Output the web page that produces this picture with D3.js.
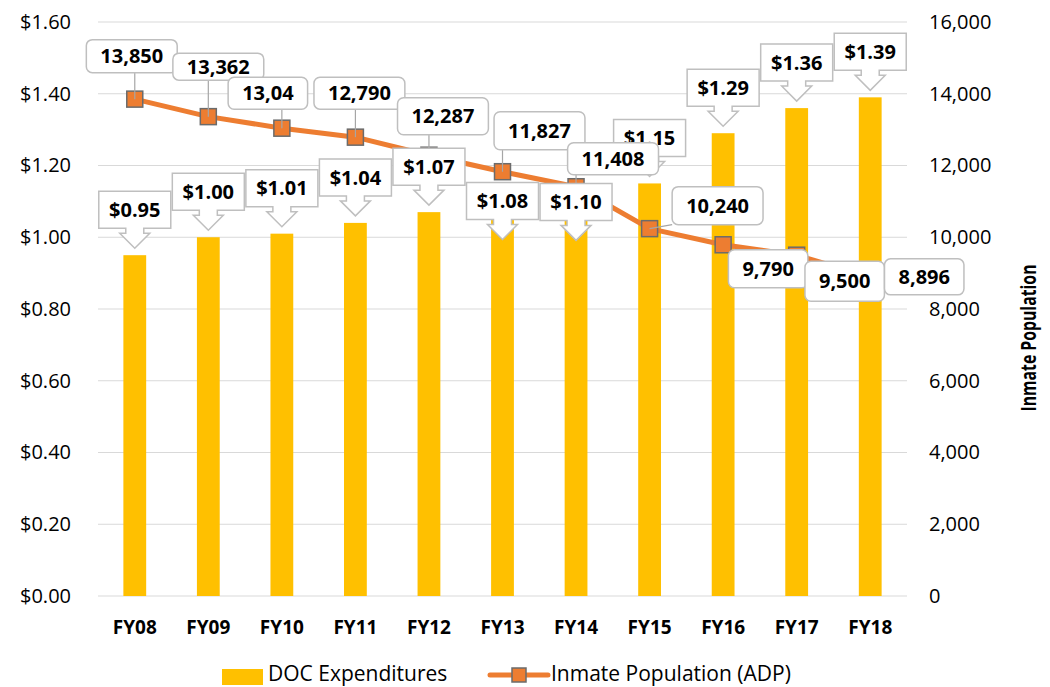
<!DOCTYPE html>
<html>
<head>
<meta charset="utf-8">
<script src="https://cdn.jsdelivr.net/npm/d3@7"></script>
<style>
  body { margin: 0; background: #fff; }
  svg { display: block; font-family: 'Open Sans', sans-serif; }
</style>
</head>
<body>
<script>
const years = ['FY08', 'FY09', 'FY10', 'FY11', 'FY12', 'FY13', 'FY14', 'FY15', 'FY16', 'FY17', 'FY18']
const expenditures = [0.95, 1.00, 1.01, 1.04, 1.07, 1.08, 1.10, 1.15, 1.29, 1.36, 1.39]
const population = [13850, 13362, 13040, 12790, 12287, 11827, 11408, 10240, 9790, 9500, 8896]
const popLabels = ['13,850', '13,362', '13,04', '12,790', '12,287', '11,827', '11,408', '10,240', '9,790', '9,500', '8,896']
const expTicks = [0, 0.2, 0.4, 0.6, 0.8, 1.0, 1.2, 1.4, 1.6]
const popTicks = [0, 2000, 4000, 6000, 8000, 10000, 12000, 14000, 16000]

// where the labels sit, relative to their points (px)
const expTip = [-7, -7, -7, -7, -7, 31, 39, -7, -7, -7, -7]
const popBox = [[-3, -43, 33], [10, -50, 27], [-14, -35, 32], [4, -44, 32], [14, -39, 37], [37, -41, 38],
  [37, -28, 32], [68, -23, 38], [45, 24, 38], [48, 26, 40], [54, 0, 36]]

const margin = { top: 22, right: 143, bottom: 91, left: 98 }
const width = 1050 - margin.left - margin.right
const height = 687 - margin.top - margin.bottom

const root = d3.select('body').append('svg')
  .attr('width', 1050)
  .attr('height', 687)
const svg = root.append('g')
  .attr('transform', `translate(${margin.left}, ${margin.top})`)

const data = years.map((year, i) => ({ year, exp: expenditures[i], pop: population[i], label: popLabels[i] }))

const x = d3.scaleBand().domain(years).range([0, width]).paddingInner(0.69).paddingOuter(0.345)
const yL = d3.scaleLinear().domain([0, 1.6]).range([height, 0])
const yR = d3.scaleLinear().domain([0, 16000]).range([height, 0])
const cx = d => x(d.year) + x.bandwidth() / 2

// grid
svg.append('g').selectAll('line').data(expTicks).join('line')
  .attr('x1', 0).attr('x2', width)
  .attr('y1', d => yL(d)).attr('y2', d => yL(d))
  .attr('stroke', '#d9d9d9').attr('stroke-width', 1)

const styleAxis = g => {
  g.select('.domain').remove()
  g.selectAll('text').attr('fill', '#000').style('font-family', "'Open Sans', sans-serif")
}

svg.append('g')
  .call(d3.axisLeft(yL).tickValues(expTicks).tickFormat(d => '$' + d.toFixed(2)).tickSize(0).tickPadding(27))
  .call(styleAxis)
  .selectAll('text').style('font-size', '20px')

svg.append('g')
  .attr('transform', `translate(${width}, 0)`)
  .call(d3.axisRight(yR).tickValues(popTicks).tickFormat(d3.format(',')).tickSize(0).tickPadding(22))
  .call(styleAxis)
  .selectAll('text').style('font-size', '20px')

svg.append('g')
  .attr('transform', `translate(0, ${height})`)
  .call(d3.axisBottom(x).tickSize(0).tickPadding(25))
  .call(styleAxis)
  .selectAll('text').style('font-size', '19px').style('font-weight', 'bold')

// bars
svg.append('g').selectAll('rect').data(data).join('rect')
  .attr('x', d => x(d.year))
  .attr('y', d => yL(d.exp))
  .attr('width', x.bandwidth())
  .attr('height', d => height - yL(d.exp))
  .attr('fill', '#FFC000')

// line + markers
const line = d3.line().x(cx).y(d => yR(d.pop))
svg.append('path').datum(data)
  .attr('d', line)
  .attr('fill', 'none')
  .attr('stroke', '#ED7D31')
  .attr('stroke-width', 5)
  .attr('stroke-linejoin', 'round')
  .attr('stroke-linecap', 'round')

svg.append('g').selectAll('rect').data(data).join('rect')
  .attr('x', d => cx(d) - 8)
  .attr('y', d => yR(d.pop) - 8)
  .attr('width', 16).attr('height', 16)
  .attr('fill', '#ED7D31')
  .attr('stroke', '#6b6b6b')
  .attr('stroke-width', 1.5)

// population label boxes (measure text first)
const leaderG = svg.append('g')
const expG = svg.append('g')
const popG = svg.append('g')

const popItems = popG.selectAll('g').data(data).join('g')
popItems.append('rect')
popItems.append('text')
  .attr('text-anchor', 'middle')
  .attr('dy', '0.36em')
  .style('font-size', '20px')
  .style('font-weight', 'bold')
  .text(d => d.label)

popItems.each(function (d, i) {
  const g = d3.select(this)
  const mx = cx(d), my = yR(d.pop)
  const [dx, dy, h] = popBox[i]
  const bx = mx + dx, by = my + dy
  const w = g.select('text').node().getComputedTextLength() + 28
  const x0 = bx - w / 2, y0 = by - h / 2
  g.select('rect')
    .attr('x', x0).attr('y', y0)
    .attr('width', w).attr('height', h)
    .attr('rx', 6)
    .attr('fill', '#fff')
    .attr('stroke', '#bfbfbf')
    .attr('stroke-width', 1.5)
  g.select('text').attr('x', bx).attr('y', by)
  // leader to nearest point on the box
  const px = Math.max(x0, Math.min(mx, x0 + w))
  const py = Math.max(y0, Math.min(my, y0 + h))
  if (Math.hypot(px - mx, py - my) > 10) {
    leaderG.append('line')
      .attr('x1', mx).attr('y1', my)
      .attr('x2', px).attr('y2', py)
      .attr('stroke', '#a6a6a6')
      .attr('stroke-width', 1.2)
  }
})

// expenditure callouts with down arrows
const bw = 72, bh = 37, nw = 18, nh = 5, hw = 30, hh = 15
const callout = (c, tip) => {
  const bottom = tip - hh - nh, top = bottom - bh
  const l = c - bw / 2, r = c + bw / 2
  return `M${l},${top}H${r}V${bottom}H${c + nw / 2}V${bottom + nh}H${c + hw / 2}L${c},${tip}` +
    `L${c - hw / 2},${bottom + nh}H${c - nw / 2}V${bottom}H${l}Z`
}
const expItems = expG.selectAll('g').data(data).join('g')
expItems.append('path')
  .attr('d', (d, i) => callout(cx(d), yL(d.exp) + expTip[i]))
  .attr('fill', '#fff')
  .attr('stroke', '#bfbfbf')
  .attr('stroke-width', 1.5)
expItems.append('text')
  .attr('x', cx)
  .attr('y', (d, i) => yL(d.exp) + expTip[i] - hh - nh - bh / 2)
  .attr('dy', '0.36em')
  .attr('text-anchor', 'middle')
  .style('font-size', '20px')
  .style('font-weight', 'bold')
  .text(d => '$' + d.exp.toFixed(2))

// right axis title
root.append('text')
  .attr('transform', 'translate(1036, 338) rotate(-90)')
  .attr('text-anchor', 'middle')
  .attr('textLength', 147)
  .attr('lengthAdjust', 'spacingAndGlyphs')
  .style('font-size', '21px')
  .style('font-weight', 'bold')
  .text('Inmate Population')

// legend
const legend = root.append('g')
legend.append('rect')
  .attr('x', 222).attr('y', 669).attr('width', 41).attr('height', 16)
  .attr('fill', '#FFC000')
legend.append('text')
  .attr('x', 268).attr('y', 681)
  .style('font-size', '21px')
  .text('DOC Expenditures')
legend.append('line')
  .attr('x1', 490).attr('x2', 548).attr('y1', 675).attr('y2', 675)
  .attr('stroke', '#ED7D31').attr('stroke-width', 5).attr('stroke-linecap', 'round')
legend.append('rect')
  .attr('x', 512).attr('y', 668).attr('width', 14).attr('height', 14)
  .attr('fill', '#ED7D31').attr('stroke', '#6b6b6b').attr('stroke-width', 1.5)
legend.append('text')
  .attr('x', 551).attr('y', 681)
  .style('font-size', '21px')
  .text('Inmate Population (ADP)')
</script>
</body>
</html>
